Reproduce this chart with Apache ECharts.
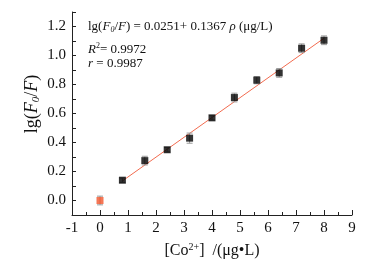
<!DOCTYPE html>
<html>
<head>
<meta charset="utf-8">
<script src="https://cdn.jsdelivr.net/npm/echarts@6/dist/echarts.min.js"></script>
<style>
html, body { margin: 0; padding: 0; background: #fff; }
#main { width: 368px; height: 269px; }
</style>
</head>
<body>
<div id="main"></div>
<script>
// concentrations and responses
const conc = [0.8, 1.6, 2.4, 3.2, 4.0, 4.8, 5.6, 6.4, 7.2, 8.0];
const resp = [0.14, 0.275, 0.35, 0.43, 0.57, 0.71, 0.83, 0.88, 1.05, 1.105];
const errs = [0.015, 0.03, 0.015, 0.035, 0.015, 0.03, 0.025, 0.03, 0.03, 0.03];
const blank = [[0, 0.0]];
const blankErr = [0.03];
const fitLine = [[0.8, 0.135], [8.0, 1.119]];

const serif = 'Liberation Serif';

const points = conc.map((x, i) => [x, resp[i]]);
const errData = conc.map((x, i) => [x, resp[i] - errs[i], resp[i] + errs[i]])
    .concat(blank.map((p, i) => [p[0], p[1] - blankErr[i], p[1] + blankErr[i]]));

function errItem(params, api) {
    const x = api.value(0);
    const lo = api.coord([x, api.value(1)]);
    const hi = api.coord([x, api.value(2)]);
    const w = 3;
    const style = { stroke: '#999', lineWidth: 1 };
    return {
        type: 'group',
        children: [
            { type: 'line', shape: { x1: lo[0], y1: lo[1], x2: hi[0], y2: hi[1] }, style },
            { type: 'line', shape: { x1: lo[0] - w, y1: lo[1], x2: lo[0] + w, y2: lo[1] }, style },
            { type: 'line', shape: { x1: hi[0] - w, y1: hi[1], x2: hi[0] + w, y2: hi[1] }, style }
        ]
    };
}

let myChart = echarts.init(document.getElementById('main'));
myChart.setOption({
    animation: false,
    grid: { left: 72, right: 16, top: 12, bottom: 54 },
    xAxis: {
        type: 'value',
        min: -1,
        max: 9,
        interval: 1,
        splitLine: { show: false },
        axisLine: { onZero: false, lineStyle: { color: '#222', width: 1 } },
        axisTick: { inside: true, length: 5, lineStyle: { color: '#222' } },
        minorTick: { show: true, splitNumber: 2, length: 3, lineStyle: { color: '#222' } },
        axisLabel: { color: '#111', fontFamily: serif, fontSize: 15, margin: 6 },
        name: '{t|[Co}{sup|2+}{t|]  /(μg•L)}',
        nameLocation: 'middle',
        nameGap: 27,
        nameTextStyle: {
            rich: {
                t: { fontFamily: serif, fontSize: 16, color: '#111' },
                sup: { fontFamily: serif, fontSize: 10, color: '#111', verticalAlign: 'top', padding: [0, 0, 8, 0] }
            }
        }
    },
    yAxis: {
        type: 'value',
        min: -0.1,
        max: 1.3,
        interval: 0.1,
        splitLine: { show: false },
        axisLine: { show: true, onZero: false, lineStyle: { color: '#222', width: 1 } },
        axisTick: { inside: true, length: 4, lineStyle: { color: '#222' } },
        axisLabel: {
            color: '#111', fontFamily: serif, fontSize: 15, margin: 6,
            formatter: function (v) {
                const k = Math.round(v * 10);
                return k % 2 === 0 ? (k / 10).toFixed(1) : '';
            }
        }
    },
    graphic: [
        {
            // y axis title
            type: 'text', x: 32, y: 104, rotation: Math.PI / 2,
            style: {
                text: '{t|lg(}{i|F}{s|0}{t|/}{i|F}{t|)}',
                align: 'center', verticalAlign: 'middle',
                rich: {
                    t: { fontFamily: serif, fontSize: 18, fill: '#111' },
                    i: { fontFamily: serif, fontSize: 18, fontStyle: 'italic', fill: '#111' },
                    s: { fontFamily: serif, fontSize: 11, fontStyle: 'italic', fill: '#111', padding: [8, 0, 0, 0] }
                }
            }
        },
        {
            type: 'text', left: 88, top: 20,
            style: {
                text: '{t|lg(}{i|F}{s|0}{t|/}{i|F}{t|) = 0.0251+ 0.1367 }{i|ρ}{t| (μg/L)}',
                rich: {
                    t: { fontFamily: serif, fontSize: 13, fill: '#111' },
                    i: { fontFamily: serif, fontSize: 13, fontStyle: 'italic', fill: '#111' },
                    s: { fontFamily: serif, fontSize: 8, fontStyle: 'italic', fill: '#111', padding: [6, 0, 0, 0] }
                }
            }
        },
        {
            type: 'text', left: 88, top: 42,
            style: {
                text: '{i|R}{s|2}{t|= 0.9972}',
                rich: {
                    t: { fontFamily: serif, fontSize: 13, fill: '#111' },
                    i: { fontFamily: serif, fontSize: 13, fontStyle: 'italic', fill: '#111' },
                    s: { fontFamily: serif, fontSize: 8, fill: '#111', padding: [0, 0, 7, 0] }
                }
            }
        },
        {
            type: 'text', left: 88, top: 57,
            style: {
                text: '{i|r}{t| = 0.9987}',
                rich: {
                    t: { fontFamily: serif, fontSize: 13, fill: '#111' },
                    i: { fontFamily: serif, fontSize: 13, fontStyle: 'italic', fill: '#111' }
                }
            }
        }
    ],
    series: [
        {
            name: 'fit',
            type: 'line',
            data: fitLine,
            symbol: 'none',
            lineStyle: { color: '#f26b4f', width: 1 },
            z: 2
        },
        {
            name: 'err',
            type: 'custom',
            renderItem: errItem,
            data: errData,
            z: 3
        },
        {
            name: 'samples',
            type: 'scatter',
            data: points,
            symbol: 'rect',
            symbolSize: 7,
            itemStyle: { color: '#000' },
            z: 4
        },
        {
            name: 'blank',
            type: 'scatter',
            data: blank,
            symbol: 'rect',
            symbolSize: 7,
            itemStyle: { color: '#f2552c' },
            z: 4
        }
    ]
});
</script>
</body>
</html>
